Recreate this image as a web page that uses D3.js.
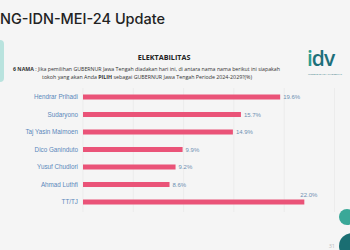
<!DOCTYPE html>
<html><head><meta charset="utf-8">
<script src="https://cdn.jsdelivr.net/npm/d3@7"></script>
<style>html,body{margin:0;padding:0;background:#f5f5f5;}svg{display:block;}</style>
</head><body>
<svg id="c" width="350" height="250"></svg>
<script>
const categories = ["Hendrar Prihadi","Sudaryono","Taj Yasin Maimoen","Dico Ganinduto","Yusuf Chudlori","Ahmad Luthfi","TT/TJ"];
const values = [19.6, 15.7, 14.9, 9.9, 9.2, 8.6, 22.0];
const valueLabels = ["19.6%","15.7%","14.9%","9.9%","9.2%","8.6%","22.0%"];
const gridTicks = [0, 5, 10, 15, 20, 25];

const svg = d3.select("#c");
svg.append("rect").attr("width",350).attr("height",250).attr("fill","#f5f5f5");

// decorative left tab
svg.append("rect").attr("x",-6).attr("y",40).attr("width",10).attr("height",42).attr("rx",4).attr("fill","#b9e3de");

// title
svg.append("text").attr("x",0).attr("y",24).attr("font-family","Inter, 'Open Sans', sans-serif")
  .attr("font-size",14.5).attr("font-weight",500).attr("fill","#222").text("NG-IDN-MEI-24 Update");

svg.append("text").attr("x",164).attr("y",60).attr("text-anchor","middle")
  .attr("font-family","'Open Sans', sans-serif").attr("font-size",7.2).attr("font-weight",700).attr("fill","#222").text("ELEKTABILITAS");

const sub1 = svg.append("text").attr("x",13).attr("y",70.5).attr("textLength",267).attr("lengthAdjust","spacingAndGlyphs")
  .attr("font-family","'Open Sans', sans-serif").attr("font-size",5).attr("fill","#333");
sub1.append("tspan").attr("font-weight",700).text("6 NAMA");
sub1.append("tspan").text(" : Jika pemilihan GUBERNUR Jawa Tengah diadakan hari ini, di antara nama nama berikut ini siapakah");
const sub2 = svg.append("text").attr("x",42).attr("y",78.5).attr("textLength",210).attr("lengthAdjust","spacingAndGlyphs")
  .attr("font-family","'Open Sans', sans-serif").attr("font-size",5).attr("fill","#333");
sub2.append("tspan").text("tokoh yang akan Anda ");
sub2.append("tspan").attr("font-weight",700).text("PILIH");
sub2.append("tspan").text(" sebagai GUBERNUR Jawa Tengah Periode 2024-2029?(%)");

// logo
const logo = svg.append("g").attr("transform","translate(307,50)");
logo.append("text").attr("x",0).attr("y",16).attr("font-family","'Open Sans', sans-serif").attr("font-size",21).attr("font-weight",600).attr("letter-spacing",-1)
  .selectAll("tspan").data([["i","#2a9d8f"],["d","#1d6f7a"],["v","#1d6f7a"]]).join("tspan").attr("fill",d=>d[1]).text(d=>d[0]);
logo.append("text").attr("x",1).attr("y",24.5).attr("textLength",34).attr("lengthAdjust","spacingAndGlyphs")
  .attr("font-family","'Open Sans', sans-serif").attr("font-size",2).attr("fill","#1d6f7a").text("INDEKS DATA NASIONAL");

// bottom-right decorations
svg.append("circle").attr("cx",347).attr("cy",217).attr("r",8).attr("fill","#3aa898");
svg.append("circle").attr("cx",352).attr("cy",246).attr("r",13).attr("fill","#1a6e72");
svg.append("text").attr("x",335).attr("y",248).attr("text-anchor","end").attr("font-family","'Open Sans', sans-serif").attr("font-size",5.5).attr("fill","#bbb").text("31");

// scales
const x = d3.scaleLinear().domain([0,25]).range([83,334.5]);
const y = d3.scaleBand().domain(categories).range([88.25,210.75]).paddingInner(0.714).paddingOuter(0.357);

// gridlines
svg.append("g").selectAll("line").data(gridTicks).join("line")
  .attr("x1",d=>x(d)).attr("x2",d=>x(d)).attr("y1",88).attr("y2",212)
  .attr("stroke","#e6e6e6").attr("stroke-width",0.6);

// bars
svg.append("g").selectAll("rect").data(categories).join("rect")
  .attr("x",x(0)).attr("y",d=>y(d)).attr("height",y.bandwidth())
  .attr("width",(d,i)=>x(values[i])-x(0)).attr("fill","#ea5378");

// category labels
svg.append("g").selectAll("text").data(categories).join("text")
  .attr("x",78).attr("y",d=>y(d)+y.bandwidth()/2).attr("dy","0.35em").attr("text-anchor","end")
  .attr("font-family","'Liberation Sans', Arial, sans-serif").attr("font-size",6.3).attr("fill","#5a88bb").text(d=>d);

// value labels
svg.append("g").selectAll("text").data(categories).join("text")
  .attr("x",(d,i)=> i===6 ? x(values[i])-4 : x(values[i])+3)
  .attr("y",(d,i)=> i===6 ? y(d)-5 : y(d)+y.bandwidth()/2)
  .attr("dy","0.35em")
  .attr("font-family","'Liberation Sans', Arial, sans-serif").attr("font-size",6).attr("fill","#6d8fb2")
  .text((d,i)=>valueLabels[i]);
</script>
</body></html>
